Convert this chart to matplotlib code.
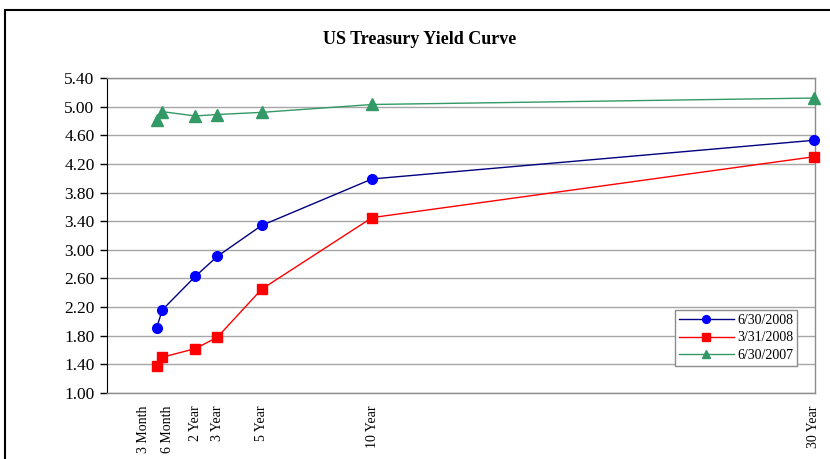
#!/usr/bin/env python3
#
# US Treasury yield curve, three dates, Excel-style look

import matplotlib
matplotlib.use('Agg')
import matplotlib.pyplot as plt
import matplotlib.transforms as mtransforms
from matplotlib.patches import Rectangle

# maturities in years and their tick labels
maturities = [0.25, 0.5, 2, 3, 5, 10, 30]
maturity_labels = ['3 Month', '6 Month', '2 Year', '3 Year', '5 Year', '10 Year', '30 Year']

yield_20080630 = [1.91, 2.16, 2.63, 2.91, 3.34, 3.99, 4.53]
yield_20080331 = [1.38, 1.50, 1.62, 1.78, 2.45, 3.45, 4.30]
yield_20070630 = [4.82, 4.93, 4.87, 4.89, 4.92, 5.03, 5.12]

y_ticks = [1.00, 1.40, 1.80, 2.20, 2.60, 3.00, 3.40, 3.80, 4.20, 4.60, 5.00, 5.40]

plt.rcParams['font.family'] = ['Liberation Serif', 'DejaVu Serif']

fig = plt.figure(figsize=(8.3, 4.59), dpi=100)
ax = fig.add_axes([107 / 830, 1 - 393 / 459, (815 - 107) / 830, (393 - 78) / 459])

ax.plot(maturities, yield_20080630, color='#000080', linewidth=1.0,
        marker='o', markersize=7, markerfacecolor='#0000ff', markeredgecolor='#0000ff',
        label='6/30/2008', clip_on=False, zorder=3)
ax.plot(maturities, yield_20080331, color='#ff0000', linewidth=1.0,
        marker='s', markersize=7, markerfacecolor='#ff0000', markeredgecolor='#ff0000',
        label='3/31/2008', clip_on=False, zorder=3)
ax.plot(maturities, yield_20070630, color='#339966', linewidth=1.0,
        marker='^', markersize=8, markerfacecolor='#339966', markeredgecolor='#339966',
        label='6/30/2007', clip_on=False, zorder=3)

ax.set_xlim(-2.0, 30.05)
ax.set_ylim(1.0, 5.4)
ax.set_yticks(y_ticks)
ax.set_yticklabels(['%.2f' % v for v in y_ticks], fontsize=12.5)
ax.set_xticks(maturities)
ax.set_xticklabels(maturity_labels, rotation=90, fontsize=10, va='top')
ax.tick_params(axis='x', length=0, pad=9)
ax.tick_params(axis='y', length=5, width=1, direction='out', pad=4)

# the two short-end labels would collide, push them apart like Excel does
xlabels = ax.get_xticklabels()
for lab, dx in [(xlabels[0], -13), (xlabels[1], 5)]:
    lab.set_transform(lab.get_transform() +
                      mtransforms.ScaledTranslation(dx / 100, 0, fig.dpi_scale_trans))

ax.grid(axis='y', color='#a6a6a6', linewidth=1.0)
ax.set_axisbelow(True)
ax.spines['left'].set_color('black')
for side in ['top', 'right', 'bottom']:
    ax.spines[side].set_color('#8c8c8c')
    ax.spines[side].set_linewidth(1.0)

leg = ax.legend(loc='upper right', bbox_to_anchor=(0.975, 0.263), fontsize=10,
                fancybox=False, framealpha=1, edgecolor='#8c8c8c', markerscale=0.8,
                handlelength=4.0, borderpad=0.3, labelspacing=0.3, handletextpad=0.2,
                borderaxespad=0)
leg.get_frame().set_linewidth(1.0)

fig.text(420 / 830, 1 - 40 / 459, 'US Treasury Yield Curve', ha='center', va='center',
         fontsize=13, fontweight='bold')

# outer chart frame, cut by the picture edge on right and bottom
fig.patches.append(Rectangle((5 / 830, -0.1), 1.2, 0.1 + 1 - 10 / 459,
                             transform=fig.transFigure, fill=False,
                             edgecolor='black', linewidth=1.5))

fig.savefig('out.png', dpi=100)
